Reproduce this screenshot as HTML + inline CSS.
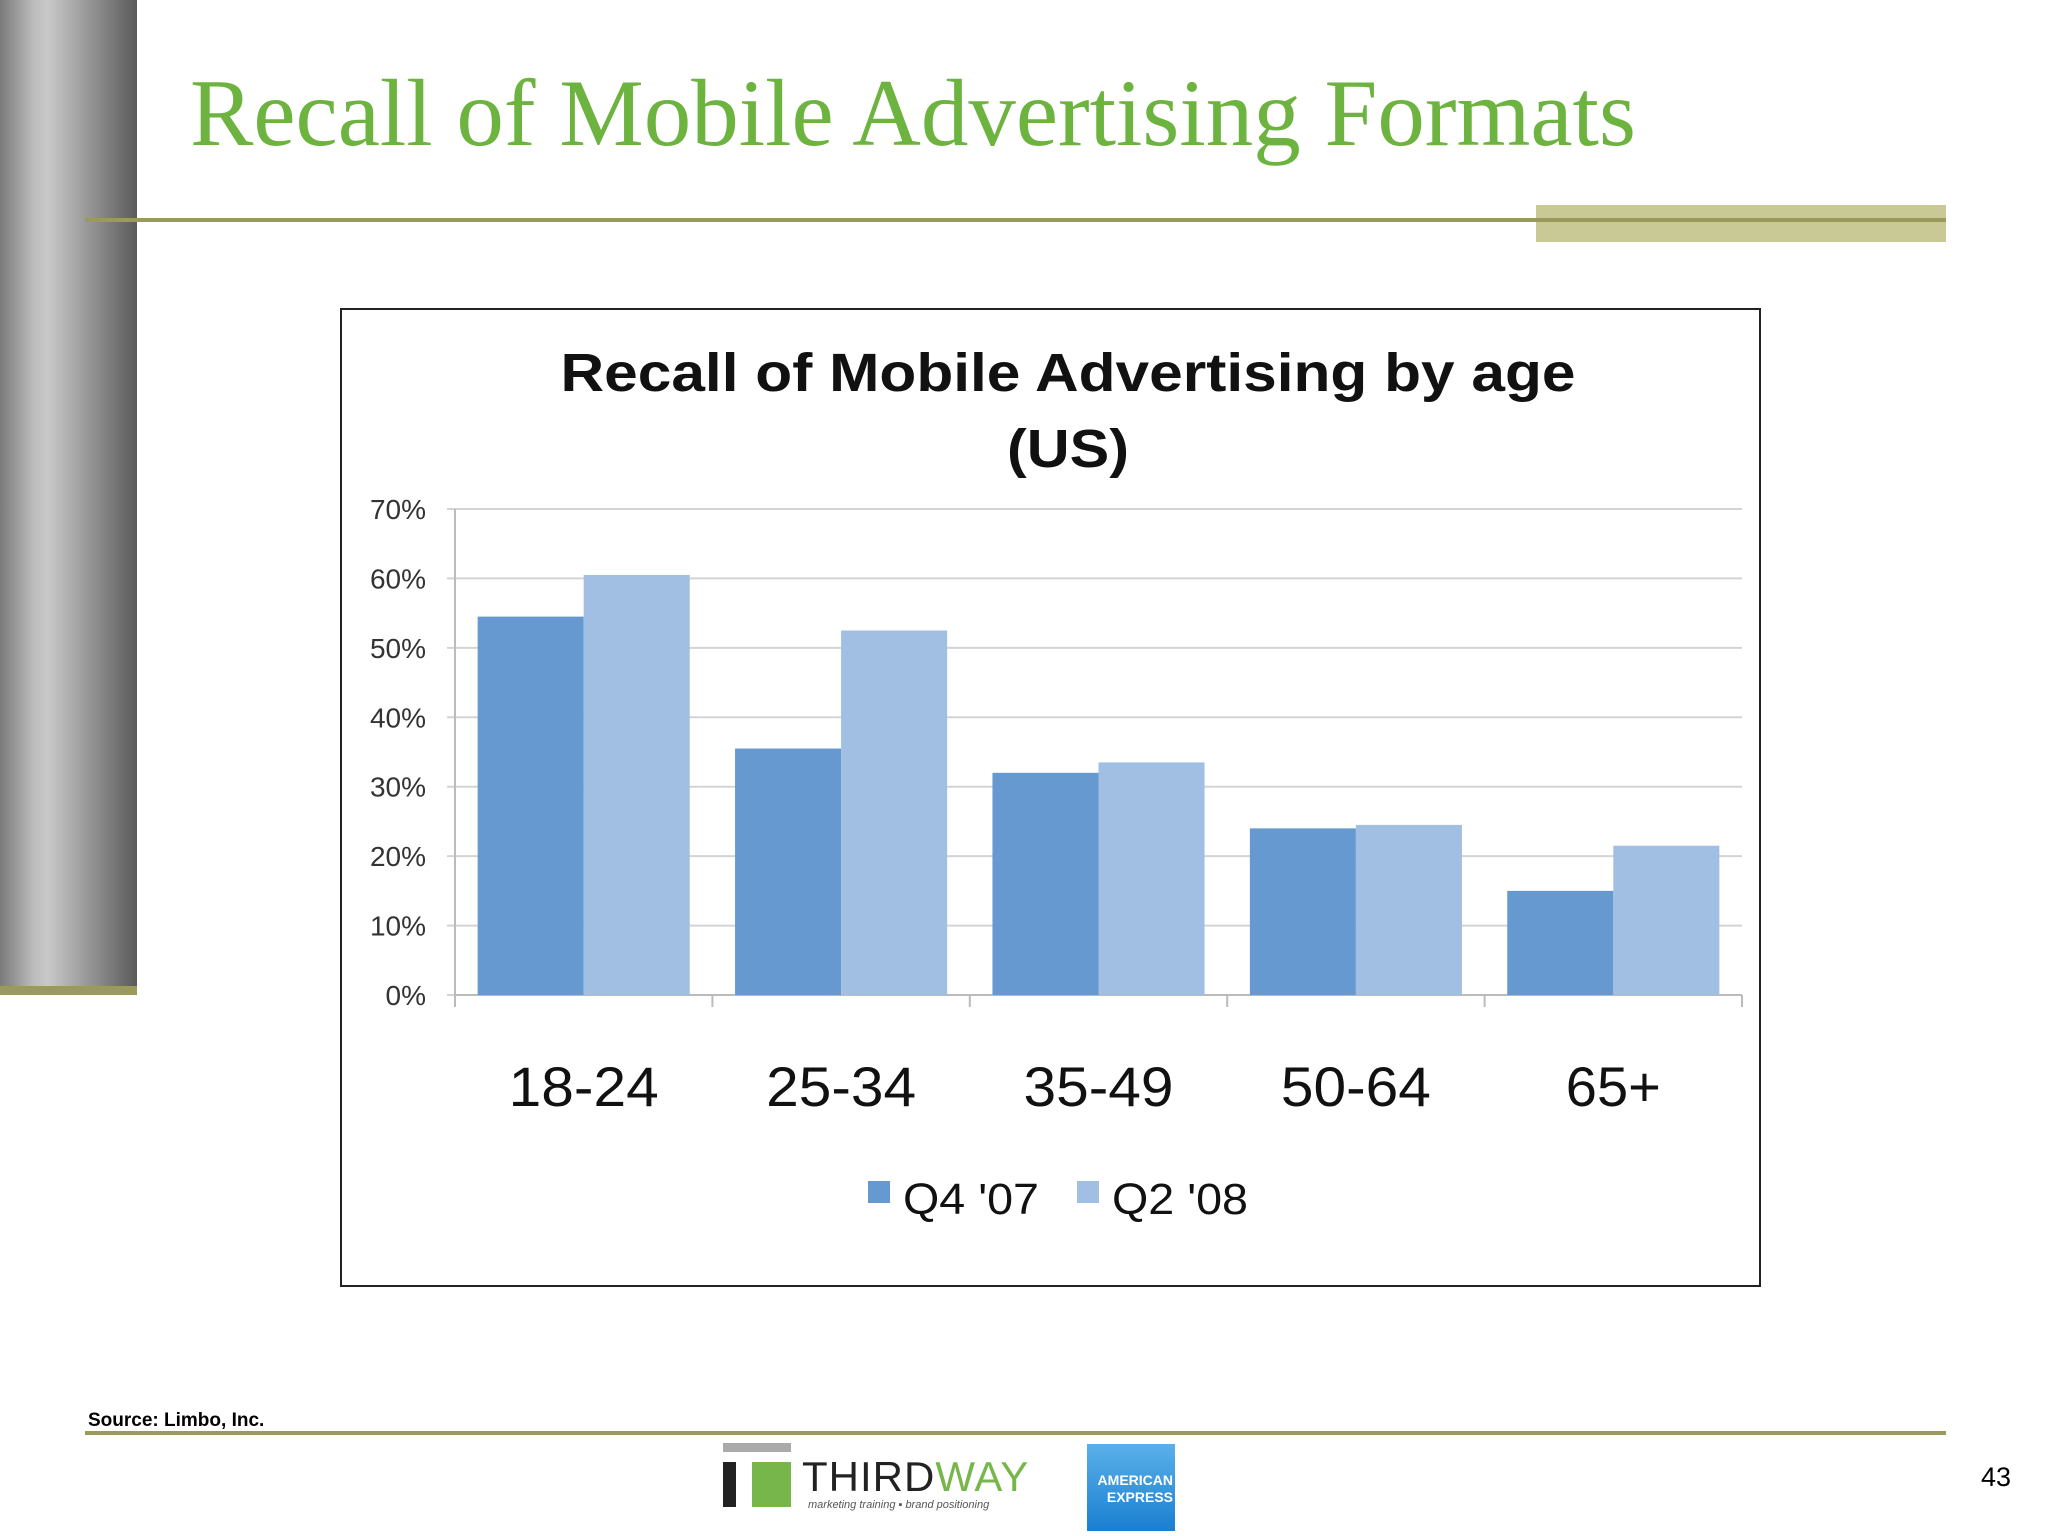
<!DOCTYPE html>
<html><head><meta charset="utf-8"><style>
body{margin:0;width:2048px;height:1536px;background:#fff;position:relative;overflow:hidden;font-family:"Liberation Sans",sans-serif}
.a{position:absolute}
</style></head><body>
<div class="a" style="left:0;top:0;width:137px;height:986px;background:linear-gradient(90deg,#7a7a7a 0%,#bdbdbd 25%,#c8c8c8 35%,#8e8e8e 70%,#5a5a5a 100%)"></div>
<div class="a" style="left:0;top:986px;width:137px;height:9px;background:#9a9a5a"></div>
<div class="a" style="left:190px;top:58px;font-family:'Liberation Serif',serif;font-size:95px;color:#6db33f;white-space:nowrap">Recall of Mobile Advertising Formats</div>
<div class="a" style="left:1536px;top:205px;width:410px;height:37px;background:#c9c995"></div>
<div class="a" style="left:85px;top:218px;width:1861px;height:4px;background:#9a9a5a"></div>
<div class="a" style="left:340px;top:308px;width:1417px;height:975px;border:2px solid #222"></div>
<svg class="a" style="left:0;top:0" width="2048" height="1536">
<g id="g"></g>
</svg>
<div class="a" style="left:88px;top:1410px;font-size:19px;font-weight:bold">Source: Limbo, Inc.</div>
<div class="a" style="left:85px;top:1431px;width:1861px;height:4px;background:#9a9a5a"></div>
<div class="a" style="left:722px;top:1443px;width:300px;height:72px">
<div class="a" style="left:1px;top:0;width:68px;height:9px;background:#aaa"></div>
<div class="a" style="left:1px;top:19px;width:13px;height:45px;background:#222"></div>
<div class="a" style="left:30px;top:19px;width:39px;height:45px;background:#77b64a"></div>
<div class="a" style="left:80px;top:10px;font-size:42px;letter-spacing:1px;white-space:nowrap;color:#222">THIRD<span style="color:#77b64a">WAY</span></div>
<div class="a" style="left:86px;top:56px;font-size:11px;font-style:italic;color:#555;white-space:nowrap">marketing training ▪ brand positioning</div>
</div>
<div class="a" style="left:1087px;top:1444px;width:88px;height:87px;background:linear-gradient(#5ab0ea,#1a7fd0);color:#fff;font-weight:bold;font-size:14px;line-height:17px;text-align:right;padding-top:28px;box-sizing:border-box;padding-right:2px">AMERICAN<br>EXPRESS</div>
<div class="a" style="left:1981px;top:1462px;font-size:27px">43</div>
<script>
const categories=["18-24","25-34","35-49","50-64","65+"];
const seriesNames=["Q4 '07","Q2 '08"];
const q4_07=[54.5,35.5,32,24,15];
const q2_08=[60.5,52.5,33.5,24.5,21.5];
const yTicks=[0,10,20,30,40,50,60,70];
const tickLabels=["0%","10%","20%","30%","40%","50%","60%","70%"];
const colors=["#6699cf","#a1bee3"];
const NS="http://www.w3.org/2000/svg",g=document.getElementById('g');
const X0=455,X1=1742,Y0=995,Y1=509;
const y=v=>Y0-(v/70)*(Y0-Y1);
const cw=(X1-X0)/categories.length;
function mk(t,a,txt){const e=document.createElementNS(NS,t);for(const k in a)e.setAttribute(k,a[k]);if(txt!==undefined)e.textContent=txt;g.appendChild(e);return e;}
let e=mk('text',{x:1068,y:391,'text-anchor':'middle','font-size':54,'font-weight':'bold',fill:'#111',textLength:1015,lengthAdjust:'spacingAndGlyphs'},'Recall of Mobile Advertising by age');


e=mk('text',{x:1068,y:467,'text-anchor':'middle','font-size':54,'font-weight':'bold',fill:'#111',textLength:122,lengthAdjust:'spacingAndGlyphs'},'(US)');


yTicks.forEach((t,i)=>{
 e=mk('line',{x1:X0-8,x2:X1,y1:y(t),y2:y(t),stroke:'#d4d4d4','stroke-width':2});
 
 
 e=mk('text',{x:426,y:y(t)+10,'text-anchor':'end','font-size':28,fill:'#333'},tickLabels[i]);
 
 
});
e=mk('line',{x1:X0,x2:X0,y1:Y1,y2:Y0+12,stroke:'#bbb','stroke-width':2});


e=mk('line',{x1:X0,x2:X1,y1:Y0,y2:Y0,stroke:'#bbb','stroke-width':2});


const bw=cw*0.412,pad=(cw-2*bw)/2;
categories.forEach((c,i)=>{
 const gx=X0+i*cw;
 e=mk('line',{x1:gx+cw,x2:gx+cw,y1:Y0,y2:Y0+12,stroke:'#bbb','stroke-width':2});
 
 
 [q4_07,q2_08].forEach((s,k)=>{
  e=mk('rect',{x:gx+pad+k*bw,y:y(s[i]),width:bw,height:Y0-y(s[i]),fill:colors[k]});
  
  
 });
 const a={x:gx+cw/2,y:1106,'text-anchor':'middle','font-size':56,fill:'#111'};
 if(c.length===5){a.textLength=150;a.lengthAdjust='spacingAndGlyphs';}
 e=mk('text',a,c);
 
 
});
const lx=[868,1077];
seriesNames.forEach((n,k)=>{
 e=mk('rect',{x:lx[k],y:1181,width:22,height:22,fill:colors[k]});
 
 
 e=mk('text',{x:lx[k]+35,y:1214,'font-size':44,fill:'#111',textLength:136,lengthAdjust:'spacingAndGlyphs'},n);
 
 
});
</script>
</body></html>
